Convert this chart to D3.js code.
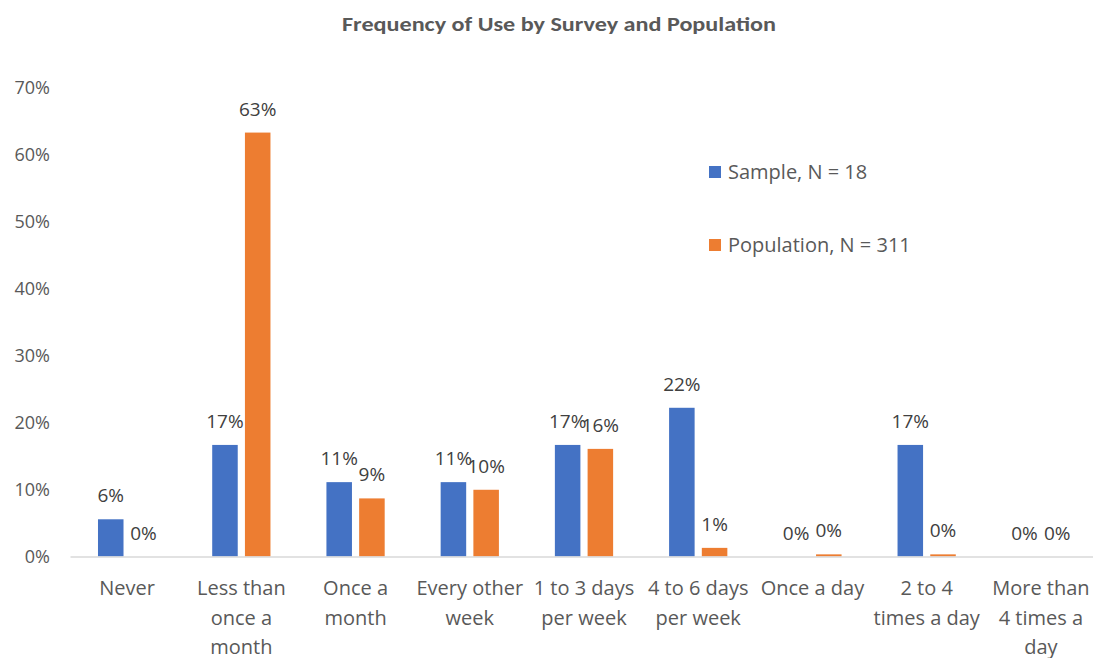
<!DOCTYPE html>
<html>
<head>
<meta charset="utf-8">
<script src="https://cdn.jsdelivr.net/npm/d3@7"></script>
<style>
  html, body { margin: 0; padding: 0; background: #ffffff; }
  svg { display: block; }
  text { font-family: "Open Sans", sans-serif; }
</style>
</head>
<body>
<svg id="chart" width="1093" height="658"></svg>
<script>
// Frequency categories (full names) and how each one wraps under the axis
const categories = [
  "Never", "Less than once a month", "Once a month", "Every other week",
  "1 to 3 days per week", "4 to 6 days per week", "Once a day",
  "2 to 4 times a day", "More than 4 times a day"
];
const categoryLines = [
  ["Never"], ["Less than", "once a", "month"], ["Once a", "month"],
  ["Every other", "week"], ["1 to 3 days", "per week"], ["4 to 6 days", "per week"],
  ["Once a day"], ["2 to 4", "times a day"], ["More than", "4 times a", "day"]
];

// Shares of respondents per category
const sampleValues = [0.0556, 0.1667, 0.1111, 0.1111, 0.1667, 0.2222, 0.0, 0.1667, 0.0];
const populationValues = [0.0, 0.6334, 0.0868, 0.0997, 0.1608, 0.0129, 0.0032, 0.0032, 0.0];

const seriesNames = ["Sample, N = 18", "Population, N = 311"];
const seriesColors = ["#4472C4", "#ED7D31"];
const yTicks = [0, 0.1, 0.2, 0.3, 0.4, 0.5, 0.6, 0.7];
const titleText = "Frequency of Use by Survey and Population";

const series = [sampleValues, populationValues];
const textColor = "#595959";
const pct = d3.format(".0%");

const svg = d3.select("#chart");
const margin = { left: 70, right: -5, top: 88, bottom: 101.5 };
const W = 1093, H = 658;

const x = d3.scaleBand()
  .domain(categories)
  .range([margin.left, W - margin.right])
  .paddingInner(0.49)
  .paddingOuter(0.245);

const xs = d3.scaleBand()
  .domain(d3.range(series.length))
  .range([0, x.bandwidth()])
  .paddingInner(0.22);

const y = d3.scaleLinear()
  .domain([0, 0.7])
  .range([H - margin.bottom, margin.top]);

// Title
svg.append("text")
  .attr("x", 559)
  .attr("y", 31)
  .attr("text-anchor", "middle")
  .attr("font-size", 21)
  .attr("font-weight", "bold")
  .attr("fill", textColor)
  .style("font-family", 'Carlito, Lato, "Open Sans", sans-serif')
  .attr("textLength", 434)
  .attr("lengthAdjust", "spacingAndGlyphs")
  .text(titleText);

// Y axis: labels only
const yAxis = d3.axisLeft(y).tickValues(yTicks).tickFormat(pct).tickSize(0).tickPadding(20);
const yG = svg.append("g").attr("transform", `translate(${margin.left},0)`).call(yAxis);
yG.select(".domain").remove();
yG.selectAll("text")
  .attr("font-size", 18)
  .attr("fill", textColor)
  .style("font-family", '"Open Sans", sans-serif');

// Bars
const groups = svg.append("g").selectAll("g")
  .data(categories)
  .join("g")
  .attr("transform", d => `translate(${x(d)},0)`);

groups.selectAll("rect")
  .data((d, i) => series.map((s, k) => ({ k, v: s[i] })))
  .join("rect")
  .attr("x", d => xs(d.k))
  .attr("width", xs.bandwidth())
  .attr("y", d => y(d.v))
  .attr("height", d => y(0) - y(d.v))
  .attr("fill", d => seriesColors[d.k]);

// Value labels
groups.selectAll("text.val")
  .data((d, i) => series.map((s, k) => ({ k, v: s[i] })))
  .join("text")
  .attr("class", "val")
  .attr("x", d => xs(d.k) + xs.bandwidth() / 2)
  .attr("y", d => y(d.v) - 17)
  .attr("text-anchor", "middle")
  .attr("font-size", 19)
  .attr("fill", "#404040")
  .text(d => pct(d.v));

// X axis baseline and wrapped category labels
const xAxis = d3.axisBottom(x).tickSize(0).tickFormat("");
const xG = svg.append("g").attr("transform", `translate(0,${y(0)})`).call(xAxis);
xG.select(".domain").attr("stroke", "#D9D9D9").attr("stroke-width", 1.5);
xG.selectAll(".tick").each(function (d, i) {
  const t = d3.select(this).append("text")
    .attr("text-anchor", "middle")
    .attr("font-size", 20)
    .attr("fill", textColor);
  categoryLines[i].forEach((line, j) => {
    t.append("tspan").attr("x", 0).attr("y", 38.5 + j * 29.5).text(line);
  });
});

// Legend
const legend = svg.append("g");
seriesNames.forEach((name, k) => {
  const cy = 172 + k * 73;
  legend.append("rect")
    .attr("x", 709).attr("y", cy - 6)
    .attr("width", 12).attr("height", 12)
    .attr("fill", seriesColors[k]);
  legend.append("text")
    .attr("x", 728).attr("y", cy + 7)
    .attr("font-size", 20)
    .attr("fill", textColor)
    .text(name);
});
</script>
</body>
</html>
